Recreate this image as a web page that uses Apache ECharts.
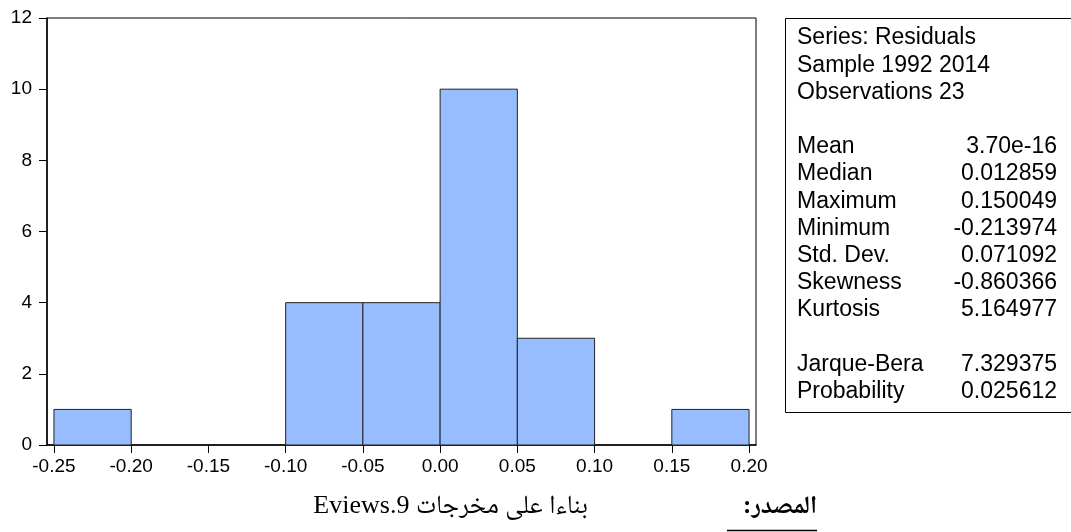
<!DOCTYPE html>
<html>
<head>
<meta charset="utf-8">
<script src="https://cdn.jsdelivr.net/npm/echarts@6/dist/echarts.min.js"></script>
<style>
  html, body { margin: 0; padding: 0; background: #fff; }
  #chart { width: 1071px; height: 532px; }
</style>
</head>
<body>
<div id="chart"></div>
<script>
// Histogram of residuals: bin edges and counts per bin
const binEdges = [-0.25, -0.20, -0.15, -0.10, -0.05, 0.00, 0.05, 0.10, 0.15, 0.20];
const binCounts = [1, 0, 0, 4, 4, 10, 3, 0, 1];
const xTicks = [-0.25, -0.20, -0.15, -0.10, -0.05, 0.00, 0.05, 0.10, 0.15, 0.20];

// Descriptive statistics panel
const headerLines = ['Series: Residuals', 'Sample 1992 2014', 'Observations 23'];
const statNames = ['Mean', 'Median', 'Maximum', 'Minimum', 'Std. Dev.', 'Skewness', 'Kurtosis'];
const statValues = ['3.70e-16', '0.012859', '0.150049', '-0.213974', '0.071092', '-0.860366', '5.164977'];
const testNames = ['Jarque-Bera', 'Probability'];
const testValues = ['7.329375', '0.025612'];

// Source note (right-to-left text)
const sourceLabel = 'المصدر:';
const sourceText = 'بناءا على مخرجات Eviews.9';

const bins = binCounts.map((c, i) => [binEdges[i], binEdges[i + 1], c]);

// wrap Arabic strings in a right-to-left embedding so punctuation and Latin runs sit correctly
const rtl = s => '\u202B' + s + '\u202C';

const chart = echarts.init(document.getElementById('chart'), null, { renderer: 'canvas' });

const FONT = 'Arial, "Liberation Sans", sans-serif';
const AR_FONT = '"Times New Roman", "Noto Naskh Arabic", "Liberation Serif", "DejaVu Sans", serif';

// statistics text rows (blank rows separate the groups)
const rows = [];
headerLines.forEach(t => rows.push({ name: t, value: '' }));
rows.push(null);
statNames.forEach((t, i) => rows.push({ name: t, value: statValues[i] }));
rows.push(null);
testNames.forEach((t, i) => rows.push({ name: t, value: testValues[i] }));

const rowTop = 38, rowStep = 27.2;
const statGraphics = [{
  type: 'rect',
  shape: { x: 785.5, y: 18.5, width: 300, height: 394 },
  style: { fill: '#fff', stroke: '#000', lineWidth: 1 },
  z: 1
}];
rows.forEach((r, i) => {
  if (!r) return;
  const y = rowTop + rowStep * i;
  statGraphics.push({
    type: 'text', x: 797, y: y, z: 2,
    style: { text: r.name, font: '23px ' + FONT, fill: '#000', textVerticalAlign: 'middle', textAlign: 'left' }
  });
  if (r.value) {
    statGraphics.push({
      type: 'text', x: 1057, y: y, z: 2,
      style: { text: r.value, font: '23px ' + FONT, fill: '#000', textVerticalAlign: 'middle', textAlign: 'right' }
    });
  }
});

// source note below the chart
statGraphics.push({
  type: 'text', x: 817, y: 507, z: 2,
  style: { text: rtl(sourceLabel), font: 'bold 25px ' + AR_FONT, fill: '#000', textAlign: 'right', textVerticalAlign: 'middle' }
});
statGraphics.push({
  type: 'line', z: 2,
  shape: { x1: 727, y1: 530.5, x2: 817, y2: 530.5 },
  style: { stroke: '#000', lineWidth: 1.5 }
});
statGraphics.push({
  type: 'text', x: 588, y: 506, z: 2,
  style: { text: rtl(sourceText), font: '26px ' + AR_FONT, fill: '#000', textAlign: 'right', textVerticalAlign: 'middle' }
});

chart.setOption({
  animation: false,
  backgroundColor: '#fff',
  grid: {
    left: 47, top: 18, right: 315, bottom: 87,
    show: true, borderColor: '#000', borderWidth: 1, backgroundColor: 'transparent'
  },
  xAxis: {
    type: 'value',
    min: -0.2545, max: 0.2045,
    splitLine: { show: false },
    axisLine: { show: true, onZero: false, lineStyle: { color: '#000', width: 1.5 } },
    axisTick: { show: true, length: 8, inside: false, customValues: xTicks, lineStyle: { color: '#000' } },
    axisLabel: {
      customValues: xTicks,
      margin: 12, fontSize: 19, fontFamily: FONT, color: '#000',
      formatter: v => v.toFixed(2)
    }
  },
  yAxis: {
    type: 'value',
    min: 0, max: 12, interval: 2,
    splitLine: { show: false },
    axisLine: { show: true, onZero: false, lineStyle: { color: '#000', width: 1.5 } },
    axisTick: { show: true, length: 8, inside: false, lineStyle: { color: '#000' } },
    axisLabel: { margin: 15, fontSize: 19, fontFamily: FONT, color: '#000' }
  },
  series: [{
    type: 'custom',
    data: bins,
    encode: { x: [0, 1], y: 2 },
    renderItem: (params, api) => {
      const count = api.value(2);
      if (!count) return null;
      const p0 = api.coord([api.value(0), count]);
      const p1 = api.coord([api.value(1), 0]);
      return {
        type: 'rect',
        shape: { x: p0[0], y: p0[1], width: p1[0] - p0[0], height: p1[1] - p0[1] },
        style: { fill: '#97BDFF', stroke: '#222', lineWidth: 1 }
      };
    }
  }],
  graphic: statGraphics
});
</script>
</body>
</html>
